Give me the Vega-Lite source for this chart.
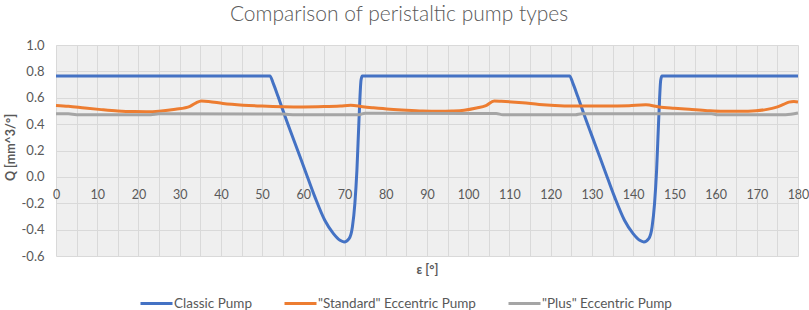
{
  "$schema": "https://vega.github.io/schema/vega-lite/v6.json",
  "width": 742,
  "height": 211,
  "autosize": {"type": "none"},
  "padding": {"left": 56, "top": 45, "right": 11, "bottom": 54},
  "background": "white",
  "title": {
    "text": "Comparison of peristaltic pump types",
    "font": "Lato",
    "fontSize": 21,
    "fontWeight": 300,
    "color": "#595959",
    "anchor": "middle",
    "frame": "group",
    "dx": -28,
    "offset": 14
  },
  "config": {
    "font": "Lato",
    "view": {"stroke": null, "fill": "#efefef"},
    "axis": {
      "gridColor": "#d9d9d9",
      "gridWidth": 1,
      "domain": false,
      "ticks": false,
      "labelColor": "#595959",
      "labelFont": "Lato",
      "labelFontSize": 13,
      "titleColor": "#595959",
      "titleFont": "Lato",
      "titleFontSize": 12.5,
      "titleFontWeight": "bold"
    }
  },
  "data": {
    "values": [
      {"pump": "Classic Pump", "angle": 0, "Q": 0.765},
      {"pump": "Classic Pump", "angle": 51.9, "Q": 0.765},
      {"pump": "Classic Pump", "angle": 52.7, "Q": 0.709},
      {"pump": "Classic Pump", "angle": 53.9, "Q": 0.607},
      {"pump": "Classic Pump", "angle": 55.6, "Q": 0.456},
      {"pump": "Classic Pump", "angle": 58.0, "Q": 0.253},
      {"pump": "Classic Pump", "angle": 60.4, "Q": 0.051},
      {"pump": "Classic Pump", "angle": 62.8, "Q": -0.152},
      {"pump": "Classic Pump", "angle": 65.2, "Q": -0.329},
      {"pump": "Classic Pump", "angle": 67.3, "Q": -0.43},
      {"pump": "Classic Pump", "angle": 68.9, "Q": -0.481},
      {"pump": "Classic Pump", "angle": 69.9, "Q": -0.493},
      {"pump": "Classic Pump", "angle": 71.1, "Q": -0.468},
      {"pump": "Classic Pump", "angle": 71.9, "Q": -0.38},
      {"pump": "Classic Pump", "angle": 72.5, "Q": -0.202},
      {"pump": "Classic Pump", "angle": 73.0, "Q": 0.051},
      {"pump": "Classic Pump", "angle": 73.5, "Q": 0.43},
      {"pump": "Classic Pump", "angle": 74.0, "Q": 0.734},
      {"pump": "Classic Pump", "angle": 74.3, "Q": 0.765},
      {"pump": "Classic Pump", "angle": 124.6, "Q": 0.765},
      {"pump": "Classic Pump", "angle": 125.4, "Q": 0.709},
      {"pump": "Classic Pump", "angle": 126.6, "Q": 0.607},
      {"pump": "Classic Pump", "angle": 128.3, "Q": 0.456},
      {"pump": "Classic Pump", "angle": 130.7, "Q": 0.253},
      {"pump": "Classic Pump", "angle": 133.1, "Q": 0.051},
      {"pump": "Classic Pump", "angle": 135.5, "Q": -0.152},
      {"pump": "Classic Pump", "angle": 137.9, "Q": -0.329},
      {"pump": "Classic Pump", "angle": 140.0, "Q": -0.43},
      {"pump": "Classic Pump", "angle": 141.6, "Q": -0.481},
      {"pump": "Classic Pump", "angle": 142.6, "Q": -0.493},
      {"pump": "Classic Pump", "angle": 143.8, "Q": -0.468},
      {"pump": "Classic Pump", "angle": 144.6, "Q": -0.38},
      {"pump": "Classic Pump", "angle": 145.2, "Q": -0.202},
      {"pump": "Classic Pump", "angle": 145.7, "Q": 0.051},
      {"pump": "Classic Pump", "angle": 146.2, "Q": 0.43},
      {"pump": "Classic Pump", "angle": 146.7, "Q": 0.734},
      {"pump": "Classic Pump", "angle": 147.0, "Q": 0.765},
      {"pump": "Classic Pump", "angle": 180, "Q": 0.765},

      {"pump": "\"Standard\" Eccentric Pump", "angle": 0, "Q": 0.542},
      {"pump": "\"Standard\" Eccentric Pump", "angle": 3, "Q": 0.535},
      {"pump": "\"Standard\" Eccentric Pump", "angle": 7, "Q": 0.522},
      {"pump": "\"Standard\" Eccentric Pump", "angle": 11, "Q": 0.51},
      {"pump": "\"Standard\" Eccentric Pump", "angle": 15, "Q": 0.5},
      {"pump": "\"Standard\" Eccentric Pump", "angle": 19, "Q": 0.495},
      {"pump": "\"Standard\" Eccentric Pump", "angle": 22, "Q": 0.494},
      {"pump": "\"Standard\" Eccentric Pump", "angle": 25, "Q": 0.498},
      {"pump": "\"Standard\" Eccentric Pump", "angle": 29, "Q": 0.512},
      {"pump": "\"Standard\" Eccentric Pump", "angle": 32.5, "Q": 0.535},
      {"pump": "\"Standard\" Eccentric Pump", "angle": 34, "Q": 0.562},
      {"pump": "\"Standard\" Eccentric Pump", "angle": 35.3, "Q": 0.575},
      {"pump": "\"Standard\" Eccentric Pump", "angle": 37, "Q": 0.572},
      {"pump": "\"Standard\" Eccentric Pump", "angle": 40.5, "Q": 0.557},
      {"pump": "\"Standard\" Eccentric Pump", "angle": 45.4, "Q": 0.544},
      {"pump": "\"Standard\" Eccentric Pump", "angle": 50, "Q": 0.537},
      {"pump": "\"Standard\" Eccentric Pump", "angle": 55, "Q": 0.532},
      {"pump": "\"Standard\" Eccentric Pump", "angle": 60, "Q": 0.53},
      {"pump": "\"Standard\" Eccentric Pump", "angle": 65, "Q": 0.533},
      {"pump": "\"Standard\" Eccentric Pump", "angle": 69, "Q": 0.538},
      {"pump": "\"Standard\" Eccentric Pump", "angle": 71.5, "Q": 0.543},
      {"pump": "\"Standard\" Eccentric Pump", "angle": 74.4, "Q": 0.532},
      {"pump": "\"Standard\" Eccentric Pump", "angle": 77, "Q": 0.524},
      {"pump": "\"Standard\" Eccentric Pump", "angle": 81, "Q": 0.513},
      {"pump": "\"Standard\" Eccentric Pump", "angle": 85, "Q": 0.505},
      {"pump": "\"Standard\" Eccentric Pump", "angle": 89, "Q": 0.499},
      {"pump": "\"Standard\" Eccentric Pump", "angle": 93, "Q": 0.497},
      {"pump": "\"Standard\" Eccentric Pump", "angle": 96, "Q": 0.499},
      {"pump": "\"Standard\" Eccentric Pump", "angle": 99, "Q": 0.505},
      {"pump": "\"Standard\" Eccentric Pump", "angle": 102, "Q": 0.522},
      {"pump": "\"Standard\" Eccentric Pump", "angle": 104.3, "Q": 0.54},
      {"pump": "\"Standard\" Eccentric Pump", "angle": 106.3, "Q": 0.575},
      {"pump": "\"Standard\" Eccentric Pump", "angle": 108, "Q": 0.573},
      {"pump": "\"Standard\" Eccentric Pump", "angle": 113.2, "Q": 0.562},
      {"pump": "\"Standard\" Eccentric Pump", "angle": 117.2, "Q": 0.549},
      {"pump": "\"Standard\" Eccentric Pump", "angle": 121, "Q": 0.541},
      {"pump": "\"Standard\" Eccentric Pump", "angle": 125.3, "Q": 0.537},
      {"pump": "\"Standard\" Eccentric Pump", "angle": 133.4, "Q": 0.537},
      {"pump": "\"Standard\" Eccentric Pump", "angle": 139, "Q": 0.54},
      {"pump": "\"Standard\" Eccentric Pump", "angle": 143.1, "Q": 0.546},
      {"pump": "\"Standard\" Eccentric Pump", "angle": 146.3, "Q": 0.53},
      {"pump": "\"Standard\" Eccentric Pump", "angle": 150, "Q": 0.52},
      {"pump": "\"Standard\" Eccentric Pump", "angle": 153.6, "Q": 0.512},
      {"pump": "\"Standard\" Eccentric Pump", "angle": 158, "Q": 0.502},
      {"pump": "\"Standard\" Eccentric Pump", "angle": 161.7, "Q": 0.497},
      {"pump": "\"Standard\" Eccentric Pump", "angle": 166, "Q": 0.497},
      {"pump": "\"Standard\" Eccentric Pump", "angle": 169.8, "Q": 0.501},
      {"pump": "\"Standard\" Eccentric Pump", "angle": 172.5, "Q": 0.512},
      {"pump": "\"Standard\" Eccentric Pump", "angle": 174.6, "Q": 0.527},
      {"pump": "\"Standard\" Eccentric Pump", "angle": 176.5, "Q": 0.55},
      {"pump": "\"Standard\" Eccentric Pump", "angle": 177.8, "Q": 0.567},
      {"pump": "\"Standard\" Eccentric Pump", "angle": 179, "Q": 0.571},
      {"pump": "\"Standard\" Eccentric Pump", "angle": 180, "Q": 0.568},

      {"pump": "\"Plus\" Eccentric Pump", "angle": 0, "Q": 0.478},
      {"pump": "\"Plus\" Eccentric Pump", "angle": 3, "Q": 0.478},
      {"pump": "\"Plus\" Eccentric Pump", "angle": 5, "Q": 0.472},
      {"pump": "\"Plus\" Eccentric Pump", "angle": 23, "Q": 0.472},
      {"pump": "\"Plus\" Eccentric Pump", "angle": 25, "Q": 0.479},
      {"pump": "\"Plus\" Eccentric Pump", "angle": 55, "Q": 0.476},
      {"pump": "\"Plus\" Eccentric Pump", "angle": 58, "Q": 0.471},
      {"pump": "\"Plus\" Eccentric Pump", "angle": 73.5, "Q": 0.471},
      {"pump": "\"Plus\" Eccentric Pump", "angle": 75, "Q": 0.483},
      {"pump": "\"Plus\" Eccentric Pump", "angle": 106.8, "Q": 0.48},
      {"pump": "\"Plus\" Eccentric Pump", "angle": 108.4, "Q": 0.471},
      {"pump": "\"Plus\" Eccentric Pump", "angle": 126, "Q": 0.471},
      {"pump": "\"Plus\" Eccentric Pump", "angle": 127.5, "Q": 0.479},
      {"pump": "\"Plus\" Eccentric Pump", "angle": 159, "Q": 0.478},
      {"pump": "\"Plus\" Eccentric Pump", "angle": 160.5, "Q": 0.471},
      {"pump": "\"Plus\" Eccentric Pump", "angle": 177, "Q": 0.472},
      {"pump": "\"Plus\" Eccentric Pump", "angle": 180, "Q": 0.484}
    ]
  },
  "mark": {"type": "line", "interpolate": "monotone", "strokeWidth": 3},
  "encoding": {
    "x": {
      "field": "angle",
      "type": "quantitative",
      "scale": {"domain": [0, 180], "nice": false, "zero": false},
      "axis": {
        "title": "ε [°]",
        "values": [0, 5, 10, 15, 20, 25, 30, 35, 40, 45, 50, 55, 60, 65, 70, 75, 80, 85, 90, 95, 100, 105, 110, 115, 120, 125, 130, 135, 140, 145, 150, 155, 160, 165, 170, 175, 180],
        "labelExpr": "datum.value % 10 === 0 ? datum.label : ''",
        "labelFlush": false,
        "labelFontSize": 12.5,
        "labelPadding": 11,
        "offset": -79,
        "grid": true,
        "titleY": 86,
        "titleBaseline": "top"
      }
    },
    "y": {
      "field": "Q",
      "type": "quantitative",
      "scale": {"domain": [-0.6, 1.0], "nice": false, "zero": false},
      "axis": {
        "title": "Q [mm^3/°]",
        "values": [-0.6, -0.4, -0.2, 0, 0.2, 0.4, 0.6, 0.8, 1.0],
        "format": ".1f",
        "labelExpr": "replace(datum.label, '−', '-')",
        "labelPadding": 12,
        "grid": true,
        "titleX": -42,
        "titleY": 102,
        "titleAlign": "center",
        "titleBaseline": "alphabetic",
        "titleAngle": -90
      }
    },
    "color": {
      "field": "pump",
      "type": "nominal",
      "scale": {
        "domain": ["Classic Pump", "\"Standard\" Eccentric Pump", "\"Plus\" Eccentric Pump"],
        "range": ["#4472C4", "#ED7D31", "#A5A5A5"]
      },
      "legend": {
        "title": null,
        "orient": "none",
        "direction": "horizontal",
        "legendX": 83,
        "legendY": 241,
        "symbolType": "stroke",
        "symbolSize": 1024,
        "symbolStrokeWidth": 3,
        "labelOffset": 0,
        "columnPadding": 26,
        "labelFont": "Lato",
        "labelFontSize": 13.5,
        "labelColor": "#595959"
      }
    }
  }
}
